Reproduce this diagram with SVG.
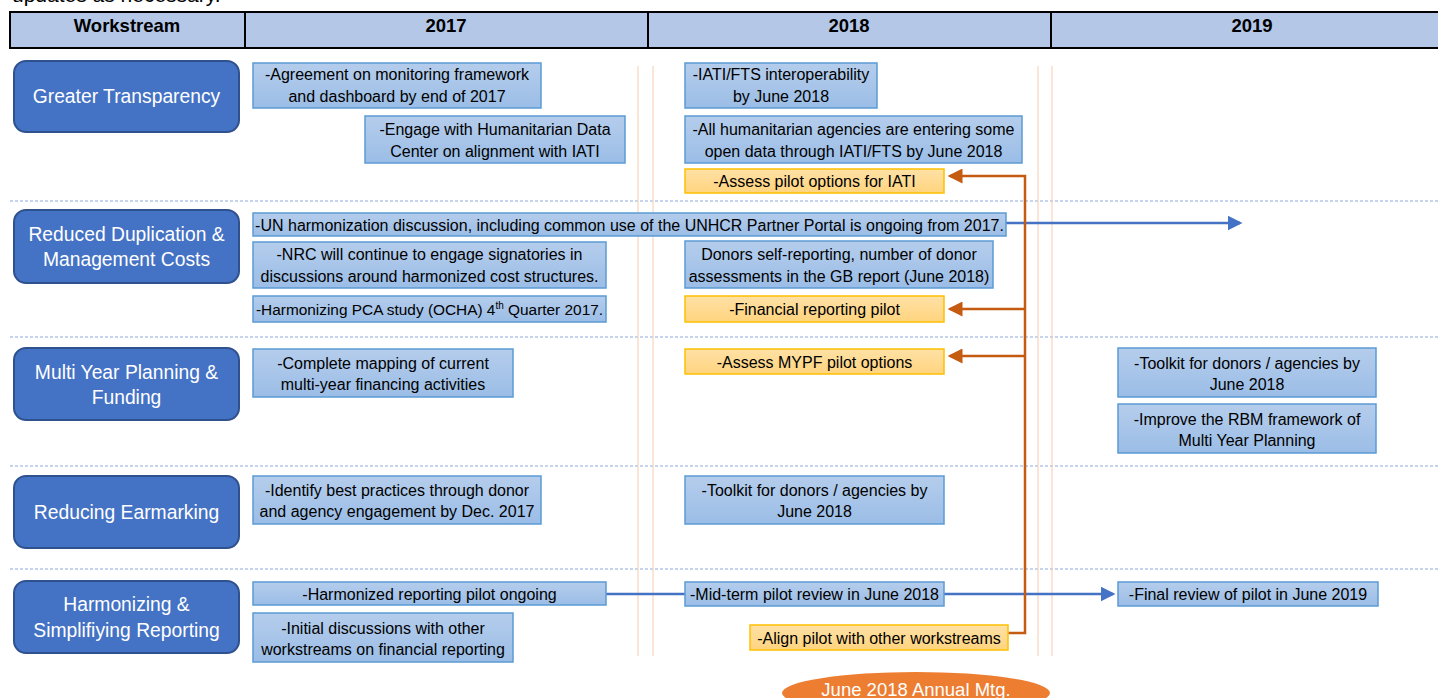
<svg xmlns="http://www.w3.org/2000/svg" width="1438" height="698" viewBox="0 0 1438 698">
<defs>
<linearGradient id="gb" x1="0" y1="0" x2="0" y2="1"><stop offset="0" stop-color="#b5cdec"/><stop offset="1" stop-color="#9bbde6"/></linearGradient>
<linearGradient id="go" x1="0" y1="0" x2="0" y2="1"><stop offset="0" stop-color="#ffe1a6"/><stop offset="1" stop-color="#ffd47e"/></linearGradient>
<marker id="ab" markerWidth="6" markerHeight="6" refX="5" refY="3" orient="auto" markerUnits="strokeWidth"><path d="M0,0 L6,3 L0,6 z" fill="#4472c4"/></marker>
<marker id="ao" markerWidth="6" markerHeight="6" refX="5" refY="3" orient="auto" markerUnits="strokeWidth"><path d="M0,0 L6,3 L0,6 z" fill="#c55a11"/></marker>
<style>
text{font-family:"Liberation Sans",Arial,sans-serif;}
.t{font-size:16px;fill:#000;text-anchor:middle}
.box{fill:url(#gb);stroke:#5b9bd5;stroke-width:1.5}
.obox{fill:url(#go);stroke:#ffc000;stroke-width:1.5}
.ws rect{fill:#4472c4;stroke:#2f528f;stroke-width:2}
.ws text{font-size:19.3px;fill:#fff;text-anchor:middle}
.hd{font-size:18.5px;font-weight:bold;fill:#000;text-anchor:middle}
.sep{stroke:#b4c7e7;stroke-width:1.5;stroke-dasharray:3 2}
.vl{stroke:#f8cbad;stroke-width:1}
.cb{stroke:#4472c4;stroke-width:2.5;fill:none}
.co{stroke:#c55a11;stroke-width:2.5;fill:none}
</style>
</defs>
<rect width="1438" height="698" fill="#fff"/>
<text x="12" y="2" style="font-size:21px" fill="#000">updates as necessary.</text>

<g id="header">
<rect x="10" y="12" width="1436" height="36" fill="#b4c7e7" stroke="#000" stroke-width="2"/>
<line x1="245" y1="12" x2="245" y2="48" stroke="#000" stroke-width="2"/>
<line x1="648" y1="12" x2="648" y2="48" stroke="#000" stroke-width="2"/>
<line x1="1051" y1="12" x2="1051" y2="48" stroke="#000" stroke-width="2"/>
<text class="hd" x="127" y="31.5">Workstream</text>
<text class="hd" x="446" y="31.5">2017</text>
<text class="hd" x="849" y="31.5">2018</text>
<text class="hd" x="1252" y="31.5">2019</text>
</g>

<g id="grid">
<line class="sep" x1="10" y1="201" x2="1438" y2="201"/>
<line class="sep" x1="10" y1="337" x2="1438" y2="337"/>
<line class="sep" x1="10" y1="466" x2="1438" y2="466"/>
<line class="sep" x1="10" y1="569" x2="1438" y2="569"/>
<line class="vl" x1="638" y1="66" x2="638" y2="656"/>
<line class="vl" x1="653" y1="66" x2="653" y2="656"/>
<line class="vl" x1="1038" y1="66" x2="1038" y2="656"/>
<line class="vl" x1="1052" y1="66" x2="1052" y2="656"/>
</g>

<g id="ws-transparency" class="ws"><rect x="14" y="61" width="225" height="71" rx="12"/><text x="126.5" y="103">Greater Transparency</text></g>
<g id="ws-duplication" class="ws"><rect x="14" y="210" width="225" height="73" rx="12"/><text x="126.5" y="240.5">Reduced Duplication &amp;</text><text x="126.5" y="265.5">Management Costs</text></g>
<g id="ws-multiyear" class="ws"><rect x="14" y="348" width="225" height="72" rx="12"/><text x="126.5" y="378.5">Multi Year Planning &amp;</text><text x="126.5" y="403.5">Funding</text></g>
<g id="ws-earmarking" class="ws"><rect x="14" y="476" width="225" height="72" rx="12"/><text x="126.5" y="518.5">Reducing Earmarking</text></g>
<g id="ws-reporting" class="ws"><rect x="14" y="581" width="225" height="72" rx="12"/><text x="126.5" y="610.5">Harmonizing &amp;</text><text x="126.5" y="636.5">Simplifiying Reporting</text></g>

<g id="connectors">
<line class="cb" x1="1006" y1="223" x2="1240" y2="223" marker-end="url(#ab)"/>
<line class="cb" x1="606" y1="594" x2="685" y2="594"/>
<line class="cb" x1="944" y1="594" x2="1113" y2="594" marker-end="url(#ab)"/>
<polyline class="co" points="1008,633 1025,633 1025,176 950,176" marker-end="url(#ao)"/>
<line class="co" x1="1025" y1="309" x2="950" y2="309" marker-end="url(#ao)"/>
<line class="co" x1="1025" y1="356" x2="950" y2="356" marker-end="url(#ao)"/>
</g>

<g id="n-agreement"><rect class="box" x="253" y="63" width="288" height="45"/><text class="t" x="397" y="80">-Agreement on monitoring framework</text><text class="t" x="397" y="102">and dashboard by end of 2017</text></g>
<g id="n-engage"><rect class="box" x="365" y="116" width="260" height="47"/><text class="t" x="495" y="134.5">-Engage with Humanitarian Data</text><text class="t" x="495" y="156.5">Center on alignment with IATI</text></g>
<g id="n-iati"><rect class="box" x="685" y="63" width="192" height="45"/><text class="t" x="781" y="80">-IATI/FTS interoperability</text><text class="t" x="781" y="102">by June 2018</text></g>
<g id="n-allagencies"><rect class="box" x="685" y="116" width="337" height="47"/><text class="t" x="853.5" y="134.5">-All humanitarian agencies are entering some</text><text class="t" x="853.5" y="156.5">open data through IATI/FTS by June 2018</text></g>
<g id="n-assess-iati"><rect class="obox" x="685" y="169" width="259" height="24"/><text class="t" x="814.5" y="187">-Assess pilot options for IATI</text></g>

<g id="n-un"><rect class="box" x="253" y="213" width="753" height="23"/><text class="t" x="629.5" y="230.5">-UN harmonization discussion, including common use of the UNHCR Partner Portal is ongoing from 2017.</text></g>
<g id="n-nrc"><rect class="box" x="253" y="242" width="353" height="46"/><text class="t" x="429.5" y="260">-NRC will continue to engage signatories in</text><text class="t" x="429.5" y="282">discussions around harmonized cost structures.</text></g>
<g id="n-pca"><rect class="box" x="253" y="296" width="353" height="26"/><text class="t" x="429.5" y="315" style="font-size:15.4px">-Harmonizing PCA study (OCHA) 4<tspan dy="-6" style="font-size:10px">th</tspan><tspan dy="6"> Quarter 2017.</tspan></text></g>
<g id="n-donors"><rect class="box" x="685" y="241" width="308" height="47"/><text class="t" x="839" y="259.5">Donors self-reporting, number of donor</text><text class="t" x="839" y="281.5">assessments in the GB report (June 2018)</text></g>
<g id="n-financial"><rect class="obox" x="685" y="296" width="259" height="26"/><text class="t" x="814.5" y="315">-Financial reporting pilot</text></g>

<g id="n-mapping"><rect class="box" x="253" y="349" width="260" height="48"/><text class="t" x="383" y="368.5">-Complete mapping of current</text><text class="t" x="383" y="389.5">multi-year financing activities</text></g>
<g id="n-mypf"><rect class="obox" x="685" y="349" width="259" height="25"/><text class="t" x="814.5" y="367.5">-Assess MYPF pilot options</text></g>
<g id="n-toolkit-2019"><rect class="box" x="1118" y="348" width="258" height="49"/><text class="t" x="1247" y="368.5">-Toolkit for donors / agencies by</text><text class="t" x="1247" y="389.5">June 2018</text></g>
<g id="n-rbm"><rect class="box" x="1118" y="404" width="258" height="49"/><text class="t" x="1247" y="424.5">-Improve the RBM framework of</text><text class="t" x="1247" y="445.5">Multi Year Planning</text></g>

<g id="n-bestpractices"><rect class="box" x="253" y="476" width="288" height="48"/><text class="t" x="397" y="495.5">-Identify best practices through donor</text><text class="t" x="397" y="516.5">and agency engagement by Dec. 2017</text></g>
<g id="n-toolkit-2018"><rect class="box" x="685" y="476" width="259" height="48"/><text class="t" x="814.5" y="495.5">-Toolkit for donors / agencies by</text><text class="t" x="814.5" y="516.5">June 2018</text></g>

<g id="n-harmonized"><rect class="box" x="253" y="582" width="353" height="23"/><text class="t" x="429.5" y="599.5">-Harmonized reporting pilot ongoing</text></g>
<g id="n-initial"><rect class="box" x="253" y="613" width="260" height="49"/><text class="t" x="383" y="633.5">-Initial discussions with other</text><text class="t" x="383" y="654.5">workstreams on financial reporting</text></g>
<g id="n-midterm"><rect class="box" x="685" y="582" width="259" height="24"/><text class="t" x="814.5" y="600">-Mid-term pilot review in June 2018</text></g>
<g id="n-final"><rect class="box" x="1118" y="582" width="260" height="24"/><text class="t" x="1248" y="600">-Final review of pilot in June 2019</text></g>
<g id="n-align"><rect class="obox" x="750" y="625" width="258" height="25"/><text class="t" x="879" y="643.5">-Align pilot with other workstreams</text></g>

<g id="n-meeting"><ellipse cx="916" cy="693" rx="134" ry="21" fill="#ed7d31"/><text x="916" y="696" style="font-size:18.5px" fill="#fff" text-anchor="middle">June 2018 Annual Mtg.</text></g>
</svg>
